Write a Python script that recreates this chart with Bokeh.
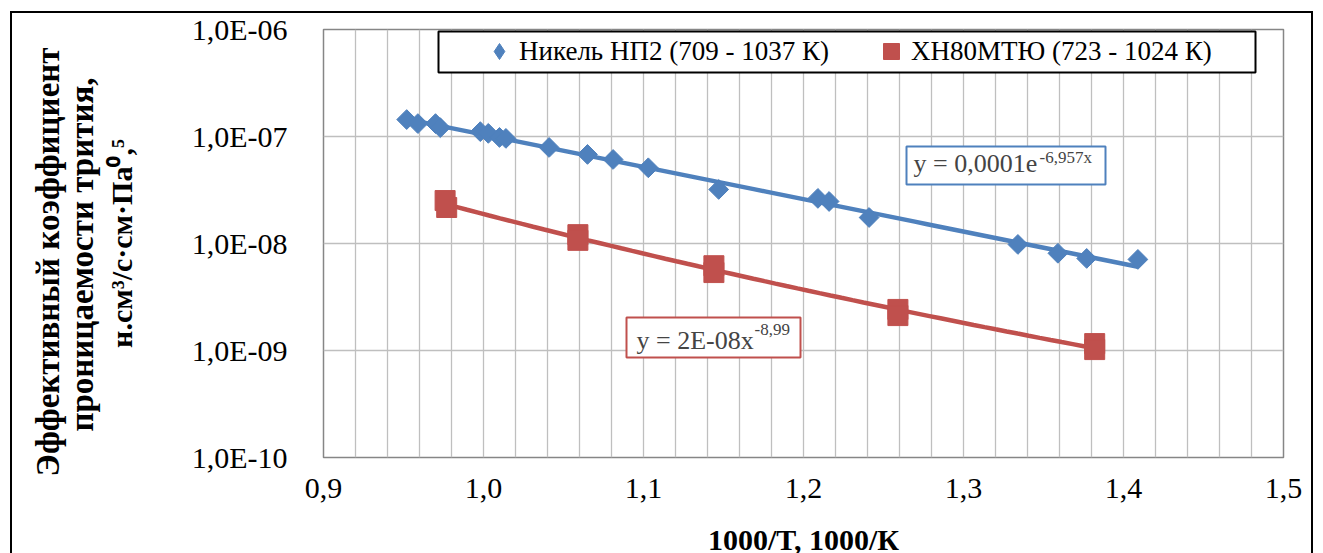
import numpy as np
from bokeh.plotting import figure
from bokeh.models import (FixedTicker, CustomJSTickFormatter, Legend, LegendItem,
                          Label, BoxAnnotation, Range1d, Title)
from bokeh.embed import file_html
from bokeh.resources import INLINE

# ---------------- data ----------------
ni_x = [0.952, 0.959, 0.970, 0.973, 0.998, 1.003, 1.010, 1.014, 1.041, 1.065,
        1.081, 1.103, 1.147, 1.209, 1.216, 1.241, 1.334, 1.359, 1.377, 1.409]
ni_y = [1.44e-7, 1.32e-7, 1.32e-7, 1.21e-7, 1.11e-7, 1.07e-7, 9.8e-8, 9.6e-8,
        7.9e-8, 6.8e-8, 6.1e-8, 5.1e-8, 3.2e-8, 2.64e-8, 2.47e-8, 1.75e-8,
        9.8e-9, 8.1e-9, 7.25e-9, 7.1e-9]
xn_x = [0.976, 0.977, 1.059, 1.059, 1.144, 1.144, 1.259, 1.259, 1.382, 1.382]
xn_y = [2.52e-8, 2.17e-8, 1.21e-8, 1.07e-8, 6.2e-9, 5.35e-9, 2.42e-9, 2.12e-9,
        1.16e-9, 1.02e-9]
ni_label = "Никель НП2 (709 - 1037 К)"
xn_label = "ХН80МТЮ (723 - 1024 К)"
ni_eq = ("y = 0,0001e", "-6,957x")
xn_eq = ("y = 2E-08x", "-8,99")
x_title = "1000/T, 1000/К"
y_title = ["Эффективный коэффициент", "проницаемости трития,", "н.см³/с·см·Па⁰,⁵"]
x_ticks = [0.9, 1.0, 1.1, 1.2, 1.3, 1.4, 1.5]
x_minor = [0.92, 0.94, 0.96, 0.98, 1.02, 1.04, 1.06, 1.08, 1.12, 1.14, 1.16, 1.18,
           1.22, 1.24, 1.26, 1.28, 1.32, 1.34, 1.36, 1.38, 1.42, 1.44, 1.46, 1.48]
y_ticks = [1e-10, 1e-9, 1e-8, 1e-7, 1e-6]

BLUE = "#4F81BD"
RED = "#C0504D"
FONT = "Liberation Serif"

# trendlines fitted from the data
a1, b1 = np.polyfit(np.array(ni_x), np.log(ni_y), 1)
tx1 = np.linspace(min(ni_x), max(ni_x), 60)
ty1 = np.exp(b1) * np.exp(a1 * tx1)
a2, b2 = np.polyfit(np.log(xn_x), np.log(xn_y), 1)
tx2 = np.linspace(min(xn_x), max(xn_x), 60)
ty2 = np.exp(b2) * tx2 ** a2

# frame geometry helpers (page pixel -> data) for annotation placement
FL, FT, FW, FH = 323, 29, 960, 428
def dx(px):
    return 0.9 + (px - FL) / FW * 0.6
def dy(py):
    return 10 ** (-6 - (py - FT) / FH * 4)

p = figure(frame_width=FW, frame_height=FH, y_axis_type="log",
           x_range=Range1d(0.9, 1.5), y_range=Range1d(1e-10, 1e-6),
           output_backend="svg", toolbar_location=None, title=None,
           min_border_left=FL, min_border_right=40, min_border_top=FT,
           min_border_bottom=96)
p.border_fill_alpha = 0
p.background_fill_color = "white"
p.styles = {
    "background-color": "white",
    "box-shadow": ("inset 10px 11px 0 0 #ffffff, inset -10px 0 0 0 #ffffff, "
                   "inset 12px 13px 0 0 #000000, inset -12px 0 0 0 #000000"),
}

p.outline_line_color = "#868686"
p.outline_line_width = 1.5

xt = FixedTicker(ticks=x_ticks, minor_ticks=x_minor)
yt = FixedTicker(ticks=y_ticks, minor_ticks=[])
p.xaxis.ticker = xt
p.xgrid.ticker = xt
p.yaxis.ticker = yt
p.ygrid.ticker = yt
p.xaxis.formatter = CustomJSTickFormatter(code="return tick.toFixed(1).replace('.', ',');")
p.yaxis.formatter = CustomJSTickFormatter(code="""
const e = Math.round(Math.log10(tick)); const a = Math.abs(e);
return '1,0E' + (e < 0 ? '-' : '+') + (a < 10 ? '0' : '') + a;""")

for ax in (p.xaxis, p.yaxis):
    ax.axis_line_color = None
    ax.major_tick_line_color = None
    ax.minor_tick_line_color = None
    ax.major_label_text_font = FONT
    ax.major_label_text_font_size = "30px"
    ax.major_label_text_color = "black"
    ax.axis_label_text_font = FONT
    ax.axis_label_text_font_size = "30px"
    ax.axis_label_text_font_style = "bold"
    ax.axis_label_text_color = "black"
p.yaxis.major_label_standoff = 30
p.xaxis.major_label_standoff = 15
p.xaxis.axis_label = x_title
p.xaxis.axis_label_standoff = 22

# y axis title: third line as the axis label, first two lines as outer titles
p.yaxis.axis_label = y_title[2]
p.yaxis.axis_label_standoff = 51
for txt, off, stand in ((y_title[1], 48, 4),
                        (y_title[0], 18, -12)):
    p.add_layout(Title(text=txt, align="right", offset=off, standoff=stand,
                       text_font=FONT, text_font_size="33px", text_font_style="bold",
                       text_color="black"), "left")

p.xgrid.grid_line_color = "#BFBFBF"
p.xgrid.grid_line_width = 1.3
p.xgrid.minor_grid_line_color = "#BFBFBF"
p.xgrid.minor_grid_line_width = 1.3
p.ygrid.grid_line_color = "#BFBFBF"
p.ygrid.grid_line_width = 1.3
p.ygrid.minor_grid_line_color = None

# trendlines and points
p.line(tx1, ty1, line_color=BLUE, line_width=4.5)
p.line(tx2, ty2, line_color=RED, line_width=4.5)
r1 = p.scatter(ni_x, ni_y, marker="square", angle=np.pi / 4, size=14,
               fill_color=BLUE, line_color=BLUE)
r2 = p.scatter(xn_x, xn_y, marker="square", size=20,
               fill_color=RED, line_color=RED)
# zero-size copy used only for the legend swatch (diamond shape)
r1_key = p.scatter(ni_x, ni_y, marker="diamond", size=0,
                   fill_color=BLUE, line_color=BLUE)

# legend frame + legend
p.add_layout(BoxAnnotation(left=dx(438), right=dx(1255), top=dy(31), bottom=dy(72),
                           fill_color="white", fill_alpha=1, line_color="black",
                           line_alpha=1, line_width=2, level="annotation"))
legend = Legend(items=[LegendItem(label=ni_label, renderers=[r1_key]),
                       LegendItem(label=xn_label, renderers=[r2])],
                orientation="horizontal", location=(156, 386),
                glyph_width=40, glyph_height=40, label_standoff=0,
                spacing=42, padding=0, margin=0,
                border_line_color=None, background_fill_alpha=0,
                label_text_font=FONT, label_text_font_size="27px",
                label_text_color="black")
p.add_layout(legend)

# trendline equations
p.add_layout(BoxAnnotation(left=dx(906), right=dx(1105), top=dy(146), bottom=dy(184),
                           fill_color="white", fill_alpha=1, line_color=BLUE,
                           line_alpha=1, line_width=2, level="annotation"))
p.add_layout(Label(x=dx(913), y=dy(163), text=ni_eq[0], text_font=FONT,
                   text_font_size="26px", text_baseline="alphabetic"))
p.add_layout(Label(x=dx(1039), y=dy(157), text=ni_eq[1], text_font=FONT,
                   text_font_size="17px", text_baseline="alphabetic"))
p.add_layout(BoxAnnotation(left=dx(626), right=dx(800), top=dy(317), bottom=dy(357),
                           fill_color="white", fill_alpha=1, line_color=RED,
                           line_alpha=1, line_width=2, level="annotation"))
p.add_layout(Label(x=dx(636), y=dy(340), text=xn_eq[0], text_font=FONT,
                   text_font_size="26px", text_baseline="alphabetic"))
p.add_layout(Label(x=dx(754), y=dy(329), text=xn_eq[1], text_font=FONT,
                   text_font_size="17px", text_baseline="alphabetic"))

open("out.html", "w").write(file_html(p, INLINE))
